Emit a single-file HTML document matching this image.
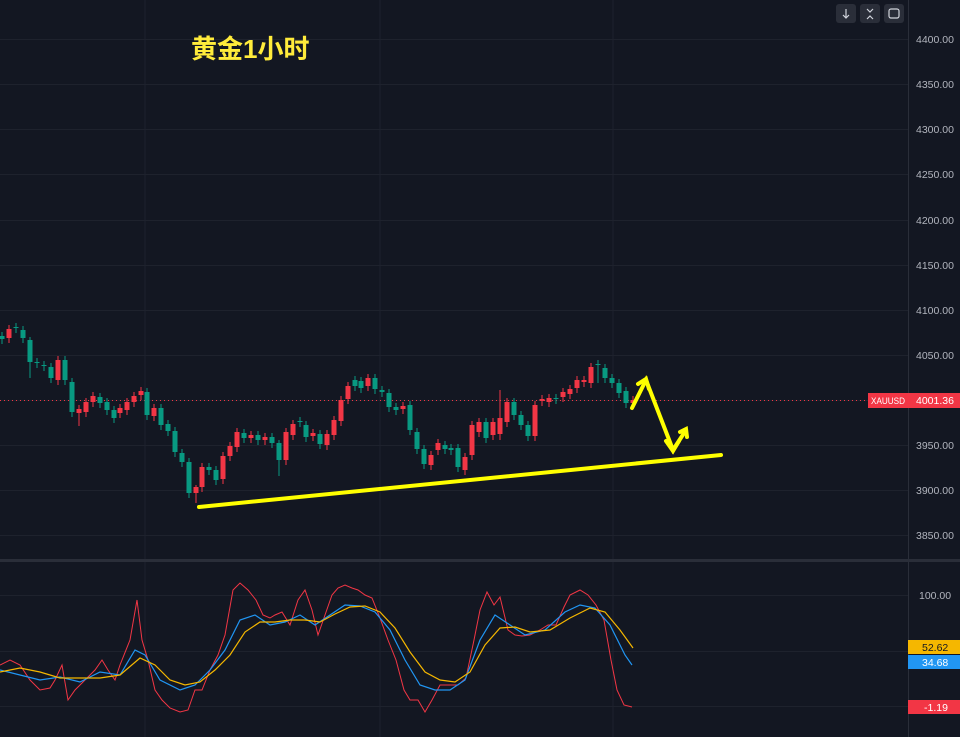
<!DOCTYPE html>
<html><head><meta charset="utf-8"><style>
html,body{margin:0;padding:0;background:#131722;}
svg{display:block}
text{font-family:"Liberation Sans","Noto Sans CJK SC",sans-serif}
</style></head><body>
<svg id="s" width="960" height="737" xmlns="http://www.w3.org/2000/svg">
<rect width="960" height="737" fill="#131722"/>
<g stroke="#1e222d" stroke-width="1" id="grid">
<line x1="145" y1="0" x2="145" y2="737"/><line x1="380" y1="0" x2="380" y2="737"/><line x1="613" y1="0" x2="613" y2="737"/>
<line x1="0" y1="39.5" x2="908" y2="39.5"/><line x1="0" y1="84.5" x2="908" y2="84.5"/><line x1="0" y1="129.5" x2="908" y2="129.5"/><line x1="0" y1="174.5" x2="908" y2="174.5"/><line x1="0" y1="220.5" x2="908" y2="220.5"/><line x1="0" y1="265.5" x2="908" y2="265.5"/><line x1="0" y1="310.5" x2="908" y2="310.5"/><line x1="0" y1="355.5" x2="908" y2="355.5"/><line x1="0" y1="400.5" x2="908" y2="400.5"/><line x1="0" y1="445.5" x2="908" y2="445.5"/><line x1="0" y1="490.5" x2="908" y2="490.5"/><line x1="0" y1="535.5" x2="908" y2="535.5"/>
<line x1="0" y1="595.5" x2="908" y2="595.5"/><line x1="0" y1="651.5" x2="908" y2="651.5"/><line x1="0" y1="706.5" x2="908" y2="706.5"/>
</g>
<rect x="0" y="559" width="960" height="3" fill="#2a2e39"/>
<line x1="908.5" y1="0" x2="908.5" y2="737" stroke="#2a2e39"/>
<line x1="0" y1="400.5" x2="908" y2="400.5" stroke="#f23645" stroke-dasharray="1 3" stroke-width="1"/>
<g id="candles"></g>
<g fill="#b2b5be" font-size="10.5">
<text x="916" y="43">4400.00</text><text x="916" y="88">4350.00</text><text x="916" y="133">4300.00</text><text x="916" y="178">4250.00</text><text x="916" y="224">4200.00</text><text x="916" y="269">4150.00</text><text x="916" y="314">4100.00</text><text x="916" y="359">4050.00</text><text x="916" y="449">3950.00</text><text x="916" y="494">3900.00</text><text x="916" y="539">3850.00</text><text x="919" y="599">100.00</text>
</g>
<rect x="868" y="393" width="40" height="15" fill="#f23645"/><text x="871" y="404" fill="#fff" font-size="9.5" textLength="34" lengthAdjust="spacingAndGlyphs">XAUUSD</text>
<rect x="908" y="393" width="52" height="15" fill="#f23645"/><text x="916" y="404" fill="#fff" font-size="10.5">4001.36</text>
<rect x="908" y="640" width="52" height="14" fill="#f5b700"/><text x="922" y="651" fill="#131722" font-size="10.5">52.62</text>
<rect x="908" y="655" width="52" height="14" fill="#2196f3"/><text x="922" y="666" fill="#fff" font-size="10.5">34.68</text>
<rect x="908" y="700" width="52" height="14" fill="#f23645"/><text x="924" y="711" fill="#fff" font-size="10.5">-1.19</text>
<g fill="#2a2e39"><rect x="836" y="4" width="20" height="19" rx="3"/><rect x="860" y="4" width="20" height="19" rx="3"/><rect x="884" y="4" width="20" height="19" rx="3"/></g>
<g stroke="#d1d4dc" stroke-width="1.2" fill="none"><path d="M846 9v9M843 15l3 3 3-3"/><path d="M867 9l3 3 3-3M867 19l3-3 3 3"/><rect x="889" y="9" width="10" height="9" rx="2"/></g>
<text x="191" y="58" fill="#ffeb3b" font-size="26" font-weight="bold">黄金1小时</text>
<polyline fill="none" stroke="#f23645" stroke-width="1" points="0,665 10,660 20,665 30,680 40,690 50,688 55,680 62,665 68,700 75,690 85,680 95,670 102,660 108,670 115,680 120,665 130,640 137,600 142,640 148,660 155,690 162,700 170,708 180,712 188,710 195,690 202,690 210,670 218,655 225,635 233,590 240,583 248,590 256,600 263,615 270,618 275,615 282,612 290,625 298,600 305,590 312,610 318,635 325,615 332,595 338,588 345,585 352,588 358,590 365,595 372,598 380,618 388,640 396,660 404,690 410,700 418,700 425,712 432,700 440,685 450,685 458,685 466,678 474,640 480,610 487,592 494,605 500,597 508,630 515,635 522,636 530,635 540,630 548,625 556,625 564,607 570,595 580,590 588,595 596,605 604,620 611,660 617,690 624,705 632,707"/>
<polyline fill="none" stroke="#2196f3" stroke-width="1.2" points="0,670 20,675 40,680 60,677 80,682 100,672 120,675 135,650 145,655 160,680 180,690 195,685 210,670 225,650 240,620 255,615 270,625 285,622 300,615 315,625 330,615 345,605 360,606 375,612 390,630 405,660 420,685 435,690 450,690 465,680 480,640 495,615 510,625 525,635 545,630 565,612 580,605 595,608 610,625 625,655 632,665"/>
<polyline fill="none" stroke="#f5b700" stroke-width="1.2" points="0,672 20,668 40,672 60,678 80,678 100,678 120,675 140,658 155,665 170,680 185,685 200,682 215,670 230,655 245,632 260,622 275,622 290,620 305,620 320,622 335,614 350,607 365,606 380,612 395,628 410,652 425,672 440,680 455,682 470,672 485,645 500,628 515,627 530,632 550,630 570,618 590,608 605,612 620,630 633,648"/>
<g stroke="#ffff00" stroke-width="4" stroke-linecap="round" fill="none">
<line x1="199" y1="507" x2="721" y2="455"/>
<path d="M632 408L646 380L673 450L686 430"/>
<path d="M638 384L646 379L649 389"/>
<path d="M666 441L673 451L679 441"/>
<path d="M680 432L686 429L687 437"/>
</g>
</svg>
<script>
var d=[[0,336,339],[7,338,329],[14,327,328],[21,330,338],[28,340,362,337,378],[35,362,363],[42,365,366],[49,367,378],[56,380,360],[63,360,380],[70,382,412],[77,413,409,405,426],[84,412,402],[91,402,396],[98,397,403],[105,402,410],[112,410,418],[118,413,408],[125,410,402],[132,402,396],[139,395,391],[145,392,415],[152,416,408],[159,408,425],[166,424,431],[173,431,452],[180,453,462],[187,462,493],[194,493,487,485,503],[200,487,467],[207,467,470],[214,470,480],[221,479,456],[228,456,446],[235,447,432],[242,433,438],[249,438,435],[256,435,440],[263,440,437],[270,437,443],[277,443,460,440,476],[284,460,432],[291,435,424],[298,421,422],[304,425,437],[311,436,433],[318,434,444],[325,445,434],[332,435,420],[339,421,400],[346,399,386],[353,380,386],[359,381,388],[366,386,378],[373,378,389],[380,390,392],[387,393,407],[394,407,410],[401,409,406],[408,405,430],[415,432,449],[422,449,464],[429,465,455],[436,450,443],[443,445,449],[449,448,450],[456,448,467],[463,470,457],[470,455,425],[477,432,422],[484,422,438],[491,435,422],[498,434,418,390,440],[505,422,402],[512,402,415],[519,415,425],[526,425,436],[533,436,405],[540,401,399],[547,402,398],[554,398,399],[561,397,392],[568,394,389],[575,388,380],[582,382,380],[589,383,367],[596,364,365,360,383],[603,368,378],[610,378,383],[617,383,393],[624,391,403],[631,403,400]];
var NS="http://www.w3.org/2000/svg",g=document.getElementById('candles');
function el(n,a){var e=document.createElementNS(NS,n);for(var k in a)e.setAttribute(k,a[k]);g.appendChild(e);}
d.forEach(function(c){var x=c[0]+2,o=c[1],cl=c[2];var up=cl<o;var col=up?'#f23645':'#089981';
var top=Math.min(o,cl),bot=Math.max(o,cl);var hi=c[3]||top-4,lo=c[4]||bot+5;
el('line',{x1:x,y1:hi,x2:x,y2:lo,stroke:col,'stroke-width':1});
el('rect',{x:x-2.5,y:top,width:5,height:Math.max(1,bot-top),fill:col});});
</script>
</body></html>
